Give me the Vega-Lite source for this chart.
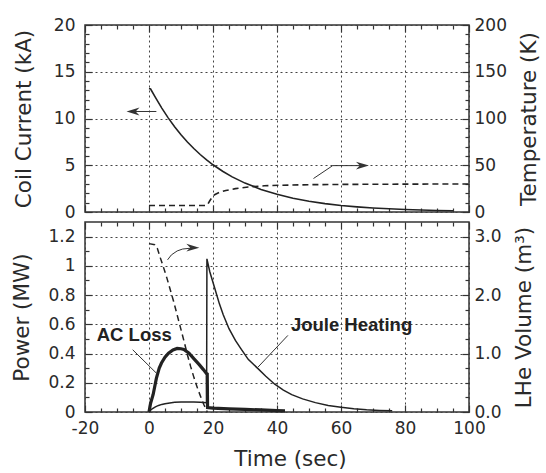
{
  "$schema": "https://vega.github.io/schema/vega-lite/v6.json",
  "padding": {"left": 11, "top": 15, "right": 5, "bottom": 0},
  "config": {
    "font": "DejaVu Sans",
    "view": {"stroke": "#333", "strokeWidth": 1.5},
    "axis": {
      "domain": false, "grid": false, "tickColor": "#333", "tickWidth": 1.2,
      "labelFont": "DejaVu Sans", "labelFontSize": 17, "labelColor": "#2a2a2a",
      "titleFont": "DejaVu Sans", "titleFontSize": 21.5, "titleFontWeight": "normal", "titleColor": "#2a2a2a",
      "gridColor": "#444", "gridDash": [2, 3], "gridWidth": 1,
      "labelFlush": false, "labelOverlap": false, "labelBound": false
    }
  },
  "datasets": {
    "current": [
      {"t": 0, "v": 13.2}, {"t": 0.5, "v": 13.15}, {"t": 2, "v": 12.26}, {"t": 4, "v": 11.11},
      {"t": 6, "v": 10.07}, {"t": 8, "v": 9.12}, {"t": 10, "v": 8.27}, {"t": 12, "v": 7.49},
      {"t": 14, "v": 6.79}, {"t": 16, "v": 6.15}, {"t": 18, "v": 5.57}, {"t": 20, "v": 5.05},
      {"t": 23, "v": 4.36}, {"t": 26, "v": 3.76}, {"t": 30, "v": 3.09}, {"t": 35, "v": 2.41},
      {"t": 40, "v": 1.89}, {"t": 45, "v": 1.47}, {"t": 50, "v": 1.15}, {"t": 55, "v": 0.9},
      {"t": 60, "v": 0.7}, {"t": 65, "v": 0.55}, {"t": 70, "v": 0.43}, {"t": 75, "v": 0.34},
      {"t": 80, "v": 0.26}, {"t": 85, "v": 0.21}, {"t": 90, "v": 0.16}, {"t": 95, "v": 0.13}
    ],
    "temp": [
      {"t": 0, "v": 7}, {"t": 18, "v": 7}, {"t": 18.4, "v": 8.5}, {"t": 19, "v": 12},
      {"t": 19.6, "v": 15}, {"t": 20.5, "v": 18.5}, {"t": 22, "v": 21}, {"t": 24, "v": 23},
      {"t": 27, "v": 25}, {"t": 31, "v": 26.8}, {"t": 36, "v": 28}, {"t": 41, "v": 28.6},
      {"t": 50, "v": 29.2}, {"t": 60, "v": 29.5}, {"t": 80, "v": 29.8}, {"t": 100, "v": 30}
    ],
    "arrowsTop": [
      {"g": "a", "t": -6, "v": 10.75}, {"g": "a", "t": 2.3, "v": 10.75},
      {"g": "b", "t": 51.4, "v": 3.58}, {"g": "b", "t": 57.4, "v": 4.96}, {"g": "b", "t": 67, "v": 4.96}
    ],
    "headsTop": [
      {"dir": "left", "t": -5.0, "v": 107.5}, {"dir": "right", "t": 66.7, "v": 49.6}
    ],
    "power": [
      {"t": 0, "v": 0}, {"t": 0.5, "v": 0.012}, {"t": 1, "v": 0.022}, {"t": 2, "v": 0.035},
      {"t": 3, "v": 0.045}, {"t": 4, "v": 0.052}, {"t": 5, "v": 0.057}, {"t": 6.5, "v": 0.062},
      {"t": 8, "v": 0.066}, {"t": 10, "v": 0.068}, {"t": 12, "v": 0.069}, {"t": 14, "v": 0.068},
      {"t": 16, "v": 0.066}, {"t": 18.0, "v": 0.063}, {"t": 18.1, "v": 1.048}, {"t": 19, "v": 0.96},
      {"t": 20.5, "v": 0.85}, {"t": 22, "v": 0.74}, {"t": 23.2, "v": 0.665}, {"t": 25, "v": 0.57},
      {"t": 27, "v": 0.49}, {"t": 28.6, "v": 0.437}, {"t": 31, "v": 0.36}, {"t": 33.9, "v": 0.3},
      {"t": 36.5, "v": 0.245}, {"t": 39.3, "v": 0.19}, {"t": 42, "v": 0.15}, {"t": 44.6, "v": 0.119},
      {"t": 48, "v": 0.09}, {"t": 52, "v": 0.064}, {"t": 56, "v": 0.045}, {"t": 60, "v": 0.032},
      {"t": 64, "v": 0.022}, {"t": 68, "v": 0.015}, {"t": 72, "v": 0.011}, {"t": 76, "v": 0.008}
    ],
    "acloss": [
      {"t": 0, "v": 0}, {"t": 0.5, "v": 0.06}, {"t": 1.3, "v": 0.12}, {"t": 2.3, "v": 0.23},
      {"t": 3.2, "v": 0.3}, {"t": 3.9, "v": 0.335}, {"t": 5, "v": 0.375}, {"t": 6.1, "v": 0.403},
      {"t": 7.5, "v": 0.425}, {"t": 8.8, "v": 0.435}, {"t": 10, "v": 0.433}, {"t": 10.9, "v": 0.428},
      {"t": 12.5, "v": 0.403}, {"t": 14, "v": 0.365}, {"t": 15.7, "v": 0.324}, {"t": 17, "v": 0.29},
      {"t": 18.0, "v": 0.262}, {"t": 18.2, "v": 0.26}, {"t": 18.3, "v": 0.03}, {"t": 20, "v": 0.027},
      {"t": 25, "v": 0.022}, {"t": 30, "v": 0.018}, {"t": 35, "v": 0.014}, {"t": 40, "v": 0.01},
      {"t": 42.5, "v": 0.008}
    ],
    "lhe": [
      {"t": 0, "v": 2.88}, {"t": 1.8, "v": 2.86}, {"t": 2.6, "v": 2.8}, {"t": 3.4, "v": 2.66},
      {"t": 4.5, "v": 2.48}, {"t": 5.6, "v": 2.29}, {"t": 6.6, "v": 2.1}, {"t": 7.7, "v": 1.89},
      {"t": 8.8, "v": 1.66}, {"t": 9.9, "v": 1.43}, {"t": 11, "v": 1.2}, {"t": 12, "v": 0.98},
      {"t": 13, "v": 0.78}, {"t": 14.1, "v": 0.58}, {"t": 15.2, "v": 0.4}, {"t": 16.3, "v": 0.24},
      {"t": 17.2, "v": 0.12}, {"t": 17.9, "v": 0.04}, {"t": 18.2, "v": 0.0}
    ],
    "annotLines": [
      {"g": "ac", "t": -5.1, "v": 0.426}, {"g": "ac", "t": 2.3, "v": 0.266},
      {"g": "jh", "t": 34.1, "v": 0.308}, {"g": "jh", "t": 43.4, "v": 0.524},
      {"g": "arr", "t": 5.8, "v": 1.041}, {"g": "arr", "t": 7, "v": 1.075}, {"g": "arr", "t": 8.8, "v": 1.102},
      {"g": "arr", "t": 10.5, "v": 1.115}, {"g": "arr", "t": 14, "v": 1.123}
    ],
    "headBottom": [{"dir": "right", "t": 13.7, "v": 2.81}],
    "labels": [
      {"label": "AC Loss", "t": -4.6, "v": 0.525},
      {"label": "Joule  Heating", "t": 63.3, "v": 0.592}
    ]
  },
  "bounds": "flush",
  "spacing": 10,
  "vconcat": [
    {
      "width": 384, "height": 187,
      "resolve": {"scale": {"y": "independent"}, "axis": {"x": "independent", "y": "independent"}},
      "layer": [
        {
          "data": {"name": "current"},
          "mark": {"type": "line", "color": "#222", "strokeWidth": 1.6},
          "encoding": {
            "x": {"field": "t", "type": "quantitative", "scale": {"domain": [-20, 100], "nice": false, "zero": false},
              "axis": {"orient": "bottom", "values": [-20, 0, 20, 40, 60, 80, 100], "labels": false, "title": null, "tickSize": -7, "grid": true}},
            "y": {"field": "v", "type": "quantitative", "scale": {"domain": [0, 20], "nice": false},
              "axis": {"orient": "left", "values": [0, 5, 10, 15, 20], "tickSize": -7, "labelPadding": 17, "grid": true, "title": "Coil Current (kA)", "titlePadding": 18}}
          }
        },
        {
          "data": {"name": "temp"},
          "mark": {"type": "line", "color": "#222", "strokeWidth": 1.6, "strokeDash": [6, 4]},
          "encoding": {
            "x": {"field": "t", "type": "quantitative", "scale": {"domain": [-20, 100], "nice": false, "zero": false},
              "axis": {"orient": "top", "values": [-20, 0, 20, 40, 60, 80, 100], "labels": false, "title": null, "tickSize": -7}},
            "y": {"field": "v", "type": "quantitative", "scale": {"domain": [0, 200], "nice": false},
              "axis": {"orient": "right", "values": [0, 50, 100, 150, 200], "tickSize": -7, "labelPadding": 12, "title": "Temperature (K)", "titleAngle": 270, "titleBaseline": "top", "titlePadding": 12}}
          }
        },
        {
          "data": {"name": "arrowsTop"},
          "mark": {"type": "line", "color": "#333", "strokeWidth": 1},
          "encoding": {
            "x": {"field": "t", "type": "quantitative", "scale": {"domain": [-20, 100], "nice": false, "zero": false},
              "axis": {"orient": "bottom", "values": [-15, -10, -5, 5, 10, 15, 25, 30, 35, 45, 50, 55, 65, 70, 75, 85, 90, 95], "labels": false, "title": null, "tickSize": -4}},
            "y": {"field": "v", "type": "quantitative", "scale": {"domain": [0, 20], "nice": false},
              "axis": {"orient": "left", "values": [1, 2, 3, 4, 6, 7, 8, 9, 11, 12, 13, 14, 16, 17, 18, 19], "labels": false, "title": null, "tickSize": -4}},
            "detail": {"field": "g"}
          }
        },
        {
          "data": {"name": "headsTop"},
          "mark": {"type": "point", "filled": true, "color": "#333", "opacity": 1, "size": 169},
          "encoding": {
            "x": {"field": "t", "type": "quantitative", "scale": {"domain": [-20, 100], "nice": false, "zero": false},
              "axis": {"orient": "top", "values": [-15, -10, -5, 5, 10, 15, 25, 30, 35, 45, 50, 55, 65, 70, 75, 85, 90, 95], "labels": false, "title": null, "tickSize": -4}},
            "y": {"field": "v", "type": "quantitative", "scale": {"domain": [0, 200], "nice": false},
              "axis": {"orient": "right", "values": [10, 20, 30, 40, 60, 70, 80, 90, 110, 120, 130, 140, 160, 170, 180, 190], "labels": false, "title": null, "tickSize": -4}},
            "shape": {"field": "dir", "type": "nominal", "legend": null,
              "scale": {"domain": ["left", "right"], "range": ["M -1 0 L 1 -0.6 L 0.4 0 L 1 0.6 Z", "M 1 0 L -1 -0.6 L -0.4 0 L -1 0.6 Z"]}}
          }
        }
      ]
    },
    {
      "width": 384, "height": 190,
      "resolve": {"scale": {"y": "independent"}, "axis": {"x": "independent", "y": "independent"}},
      "layer": [
        {
          "data": {"name": "power"},
          "mark": {"type": "line", "color": "#222", "strokeWidth": 1.5},
          "encoding": {
            "x": {"field": "t", "type": "quantitative", "scale": {"domain": [-20, 100], "nice": false, "zero": false},
              "axis": {"orient": "bottom", "values": [-20, 0, 20, 40, 60, 80, 100], "labelExpr": "'' + datum.value", "tickSize": -7, "labelPadding": 15, "grid": true, "title": "Time (sec)", "titlePadding": 12, "titleX": 205}},
            "y": {"field": "v", "type": "quantitative", "scale": {"domain": [0, 1.3], "nice": false},
              "axis": {"orient": "left", "values": [0, 0.2, 0.4, 0.6, 0.8, 1, 1.2], "labelExpr": "'' + datum.value", "tickSize": -7, "labelPadding": 17, "grid": true, "title": "Power (MW)", "titlePadding": 14}}
          }
        },
        {
          "data": {"name": "lhe"},
          "mark": {"type": "line", "color": "#222", "strokeWidth": 1.5, "strokeDash": [6, 4]},
          "encoding": {
            "x": {"field": "t", "type": "quantitative", "scale": {"domain": [-20, 100], "nice": false, "zero": false},
              "axis": {"orient": "top", "values": [-20, 0, 20, 40, 60, 80, 100], "labels": false, "title": null, "tickSize": -7}},
            "y": {"field": "v", "type": "quantitative", "scale": {"domain": [0, 3.25], "nice": false},
              "axis": {"orient": "right", "values": [0, 1, 2, 3], "format": ".1f", "tickSize": -7, "labelPadding": 12, "title": "LHe Volume (m³)", "titleAngle": 270, "titleBaseline": "top", "titlePadding": 12}}
          }
        },
        {
          "data": {"name": "acloss"},
          "mark": {"type": "line", "color": "#222", "strokeWidth": 3.2},
          "encoding": {
            "x": {"field": "t", "type": "quantitative", "scale": {"domain": [-20, 100], "nice": false, "zero": false},
              "axis": {"orient": "bottom", "values": [-15, -10, -5, 5, 10, 15, 25, 30, 35, 45, 50, 55, 65, 70, 75, 85, 90, 95], "labels": false, "title": null, "tickSize": -4}},
            "y": {"field": "v", "type": "quantitative", "scale": {"domain": [0, 1.3], "nice": false},
              "axis": {"orient": "left", "values": [0.1, 0.3, 0.5, 0.7, 0.9, 1.1], "labels": false, "title": null, "tickSize": -4}}
          }
        },
        {
          "data": {"name": "annotLines"},
          "mark": {"type": "line", "color": "#333", "strokeWidth": 1},
          "encoding": {
            "x": {"field": "t", "type": "quantitative", "scale": {"domain": [-20, 100], "nice": false, "zero": false}, "axis": null},
            "y": {"field": "v", "type": "quantitative", "scale": {"domain": [0, 1.3], "nice": false}, "axis": null},
            "detail": {"field": "g"}
          }
        },
        {
          "data": {"name": "headBottom"},
          "mark": {"type": "point", "filled": true, "color": "#333", "opacity": 1, "size": 169},
          "encoding": {
            "x": {"field": "t", "type": "quantitative", "scale": {"domain": [-20, 100], "nice": false, "zero": false},
              "axis": {"orient": "top", "values": [-15, -10, -5, 5, 10, 15, 25, 30, 35, 45, 50, 55, 65, 70, 75, 85, 90, 95], "labels": false, "title": null, "tickSize": -4}},
            "y": {"field": "v", "type": "quantitative", "scale": {"domain": [0, 3.25], "nice": false},
              "axis": {"orient": "right", "values": [0.25, 0.5, 0.75, 1.25, 1.5, 1.75, 2.25, 2.5, 2.75], "labels": false, "title": null, "tickSize": -4}},
            "shape": {"field": "dir", "type": "nominal", "legend": null,
              "scale": {"domain": ["left", "right"], "range": ["M -1 0 L 1 -0.6 L 0.4 0 L 1 0.6 Z", "M 1 0 L -1 -0.6 L -0.4 0 L -1 0.6 Z"]}}
          }
        },
        {
          "data": {"name": "labels"},
          "mark": {"type": "text", "font": "Liberation Sans", "fontSize": 18.5, "fontWeight": "bold", "color": "#222", "align": "center", "baseline": "middle"},
          "encoding": {
            "x": {"field": "t", "type": "quantitative", "scale": {"domain": [-20, 100], "nice": false, "zero": false}, "axis": null},
            "y": {"field": "v", "type": "quantitative", "scale": {"domain": [0, 1.3], "nice": false}, "axis": null},
            "text": {"field": "label"}
          }
        }
      ]
    }
  ]
}
